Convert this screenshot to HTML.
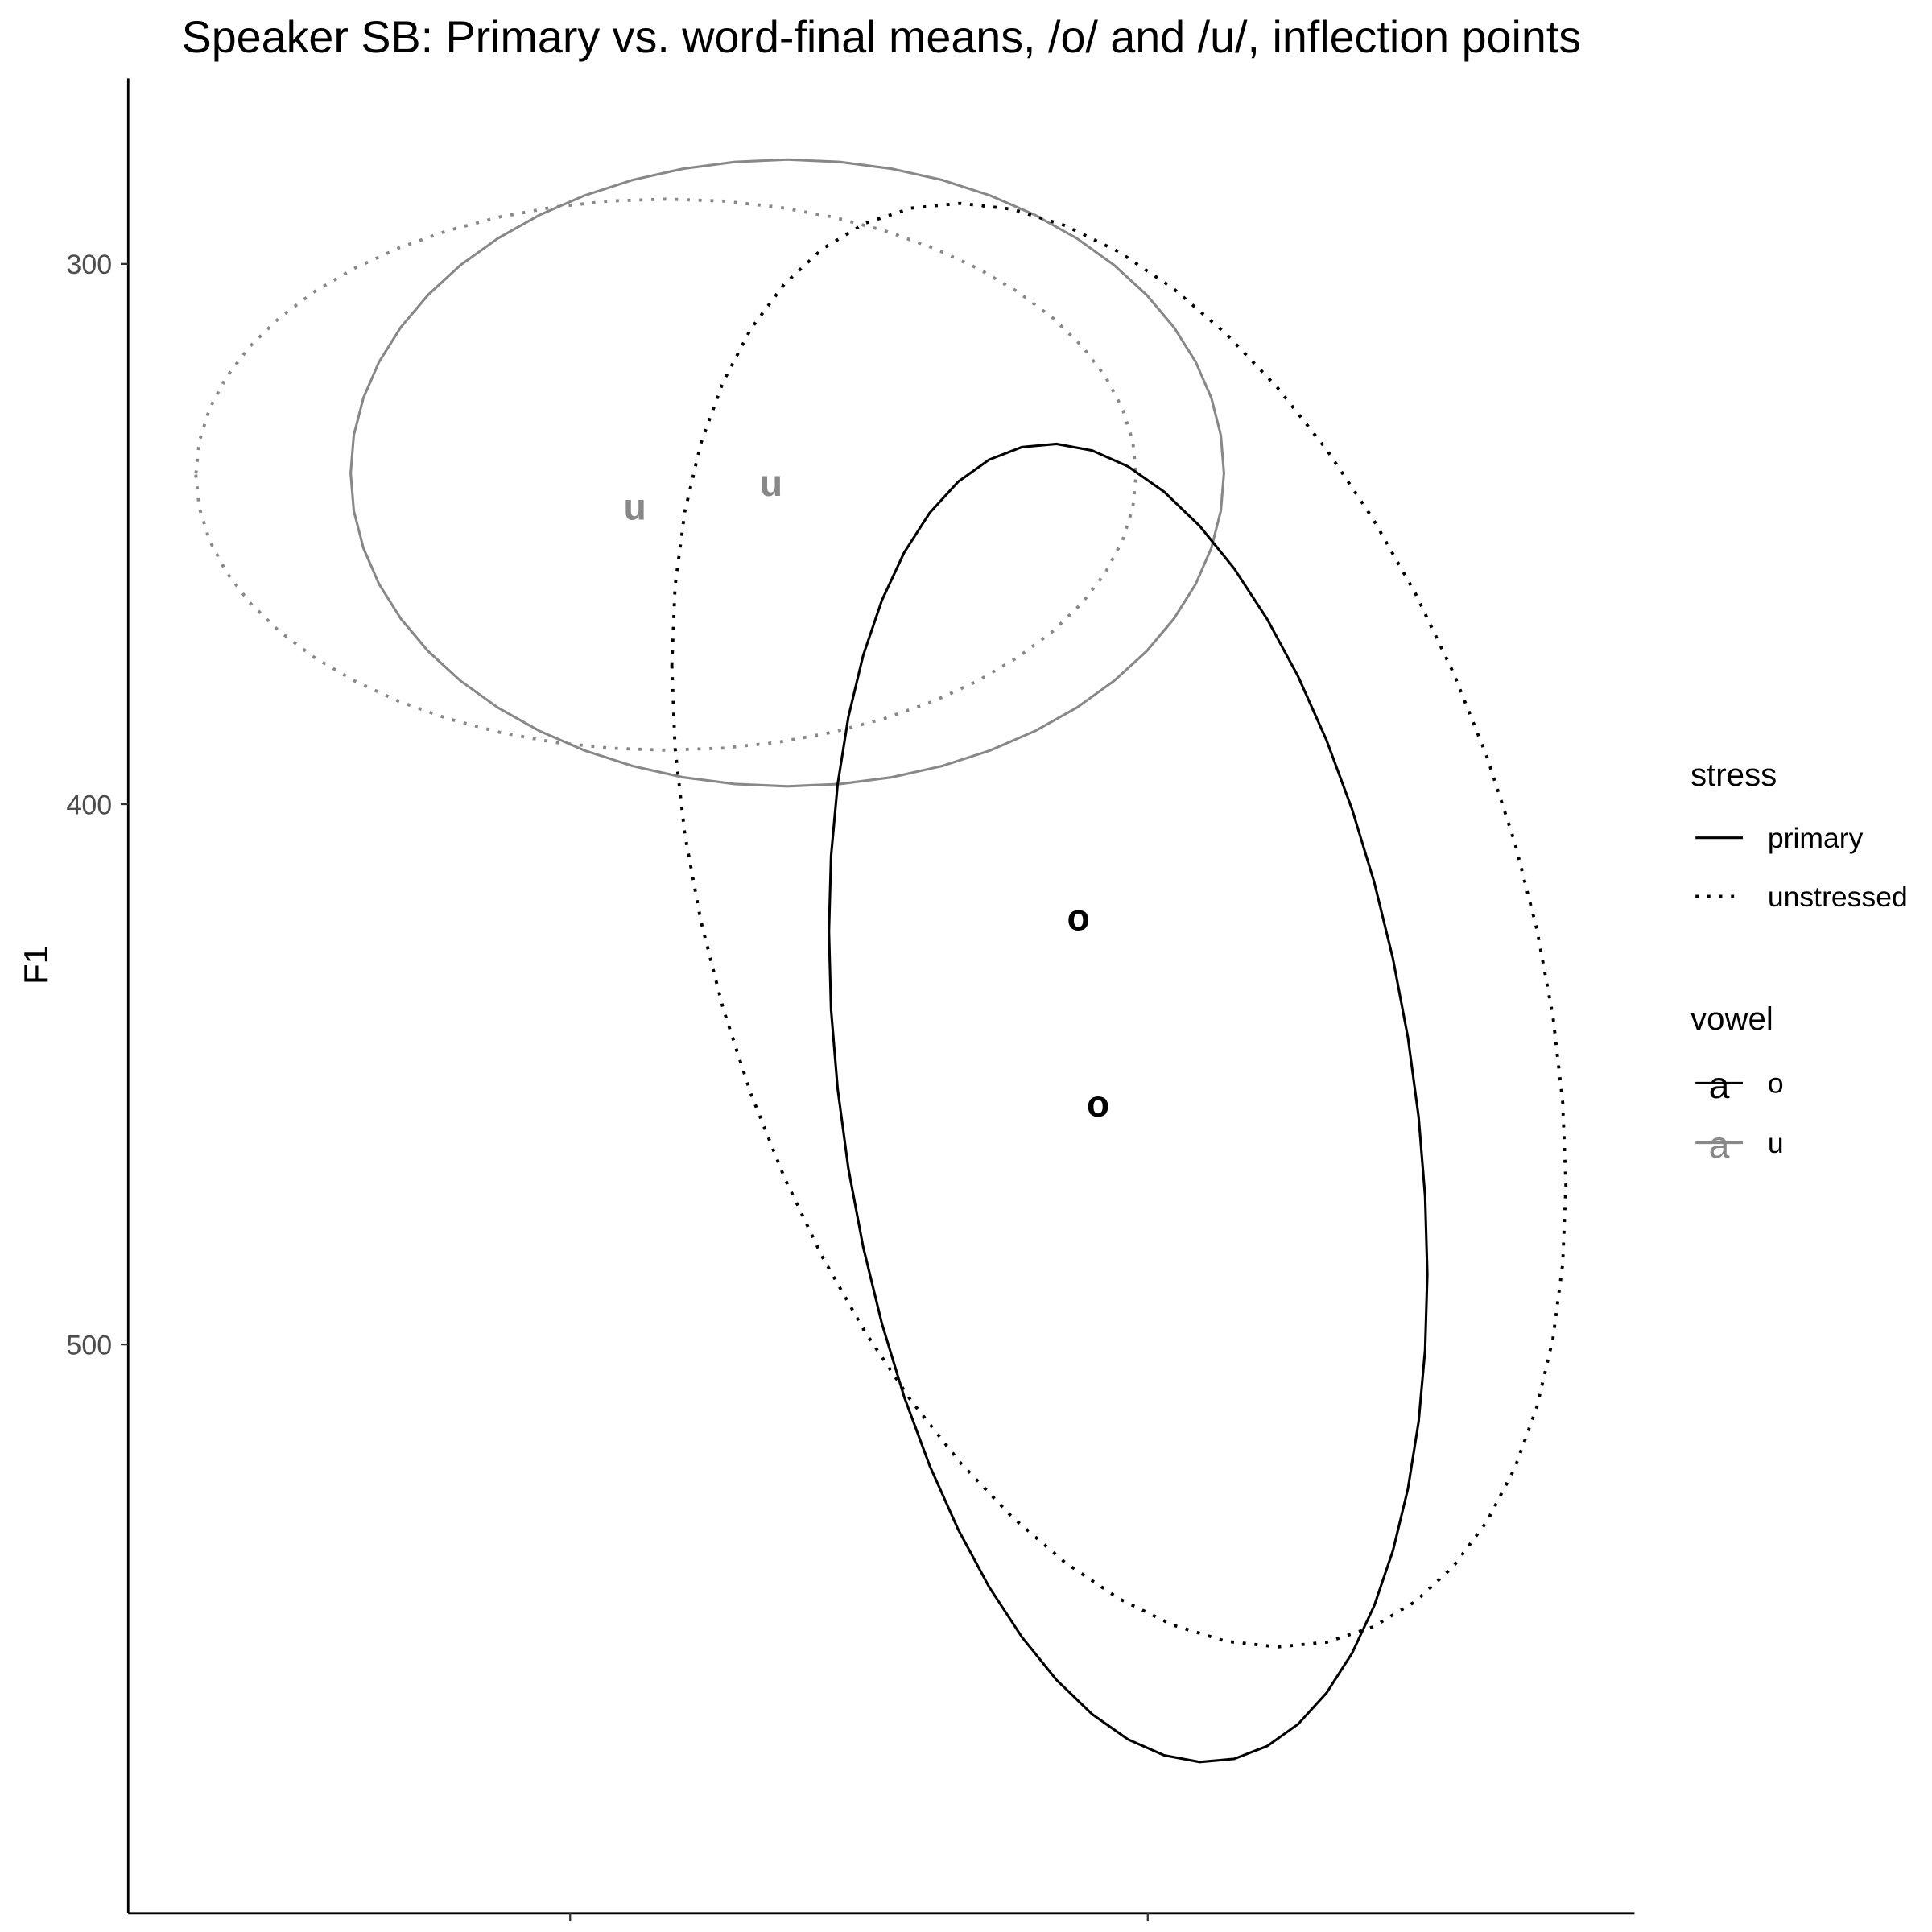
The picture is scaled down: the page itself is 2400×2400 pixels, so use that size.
<!DOCTYPE html>
<html><head><meta charset="utf-8"><style>html,body{margin:0;padding:0;background:#fff}svg{display:block}text{font-family:"Liberation Sans",Arial,sans-serif}</style></head>
<body>
<svg id="chart" width="2400" height="2400" viewBox="0 0 1552 1552" xmlns="http://www.w3.org/2000/svg">
<rect width="1552" height="1552" fill="#fff"/>
<text x="708" y="42" font-size="36" text-anchor="middle">Speaker SB: Primary vs. word-final means, /o/ and /u/, inflection points</text>
<g id="plot"></g>
<line x1="103" y1="63" x2="103" y2="1537" stroke="#000" stroke-width="1.8"/>
<line x1="103" y1="1537" x2="1313" y2="1537" stroke="#000" stroke-width="1.8"/>
<g id="xt"></g>
<g id="yt"></g>
<text x="709" y="1607" font-size="27" text-anchor="middle">F2</text>
<text x="38" y="775" font-size="27" text-anchor="middle" transform="rotate(-90 38 775)">F1</text>
<g>
<text x="1358" y="631" font-size="26">stress</text>
<line x1="1362" y1="673" x2="1400" y2="673" stroke="#000" stroke-width="2"/>
<text x="1420" y="681" font-size="23">primary</text>
<line x1="1362" y1="720" x2="1400" y2="720" stroke="#000" stroke-width="2.5" stroke-dasharray="2.5 7"/>
<text x="1420" y="728" font-size="23">unstressed</text>
<text x="1358" y="827" font-size="26">vowel</text>
<line x1="1362" y1="870" x2="1400" y2="870" stroke="#000" stroke-width="2"/>
<text x="1381" y="882" font-size="30" text-anchor="middle" fill="#000">a</text>
<text x="1420" y="878" font-size="23">o</text>
<line x1="1362" y1="918" x2="1400" y2="918" stroke="#888" stroke-width="2"/>
<text x="1381" y="930" font-size="30" text-anchor="middle" fill="#888">a</text>
<text x="1420" y="926" font-size="23">u</text>
</g>
</svg>
<script>
const xTicks = [1500, 1000];
const yTicks = [300, 400, 500];
const ellVowel = ['u', 'u', 'o', 'o'];
const ellStress = ['primary', 'unstressed', 'primary', 'unstressed'];
const ellF2 = [1312, 1417, 1017, 1025];
const ellF1 = [338.7, 339, 455.3, 422.4];
const ellSdF2 = [378, 407, 259, 387];
const ellSdF1 = [58, 51, 122, 133.6];
const ellRho = [0, 0, -0.26, -0.36];
const labVowel = ['u', 'u', 'o', 'o'];
const labF2 = [1326, 1444, 1043, 1060];
const labF1 = [340.6, 345, 455.5, 421];

const xS = v => 458 + (1500 - v) * 464 / 500;
const yS = v => 212 + (v - 300) * 4.34;
const NS = 'http://www.w3.org/2000/svg';
const plot = document.getElementById('plot');
const col = v => v === 'o' ? '#000' : '#888';

for (let i = 0; i < ellF2.length; i++) {
  let d = '';
  const r = ellRho[i], q = Math.sqrt(1 - r * r);
  for (let k = 0; k <= 52; k++) {
    const t = k / 52 * 2 * Math.PI;
    const f2 = ellF2[i] + ellSdF2[i] * Math.cos(t);
    const f1 = ellF1[i] + ellSdF1[i] * (r * Math.cos(t) + q * Math.sin(t));
    d += (k ? 'L' : 'M') + xS(f2).toFixed(1) + ' ' + yS(f1).toFixed(1);
  }
  const p = document.createElementNS(NS, 'path');
  p.setAttribute('d', d + 'Z');
  p.setAttribute('fill', 'none');
  p.setAttribute('stroke', col(ellVowel[i]));
  p.setAttribute('stroke-width', '2');
  if (ellStress[i] === 'unstressed') { p.setAttribute('stroke-dasharray', '2.5 7'); p.setAttribute('stroke-width', '2.5'); }
  
  
  plot.appendChild(p);
}
for (let i = 0; i < labF2.length; i++) {
  const t = document.createElementNS(NS, 'text');
  t.setAttribute('x', xS(labF2[i]));
  t.setAttribute('y', yS(labF1[i]) + 10);
  t.setAttribute('font-size', '30');
  t.setAttribute('font-weight', 'bold');
  t.setAttribute('text-anchor', 'middle');
  t.setAttribute('fill', col(labVowel[i]));
  t.textContent = labVowel[i];
  
  
  plot.appendChild(t);
}
const xt = document.getElementById('xt'), yt = document.getElementById('yt');
xTicks.forEach(v => {
  const l = document.createElementNS(NS, 'line');
  l.setAttribute('x1', xS(v)); l.setAttribute('x2', xS(v));
  l.setAttribute('y1', 1537); l.setAttribute('y2', 1543);
  l.setAttribute('stroke', '#333'); l.setAttribute('stroke-width', '1.5');
  
  
  xt.appendChild(l);
  const t = document.createElementNS(NS, 'text');
  t.setAttribute('x', xS(v)); t.setAttribute('y', 1571);
  t.setAttribute('font-size', '22'); t.setAttribute('fill', '#4d4d4d');
  t.setAttribute('text-anchor', 'middle'); t.textContent = v;
  
  
  xt.appendChild(t);
});
yTicks.forEach(v => {
  const l = document.createElementNS(NS, 'line');
  l.setAttribute('x1', 97); l.setAttribute('x2', 103);
  l.setAttribute('y1', yS(v)); l.setAttribute('y2', yS(v));
  l.setAttribute('stroke', '#333'); l.setAttribute('stroke-width', '1.5');
  
  
  yt.appendChild(l);
  const t = document.createElementNS(NS, 'text');
  t.setAttribute('x', 90); t.setAttribute('y', yS(v) + 8);
  t.setAttribute('font-size', '22'); t.setAttribute('fill', '#4d4d4d');
  t.setAttribute('text-anchor', 'end'); t.textContent = v;
  
  
  yt.appendChild(t);
});
</script>
</body></html>
